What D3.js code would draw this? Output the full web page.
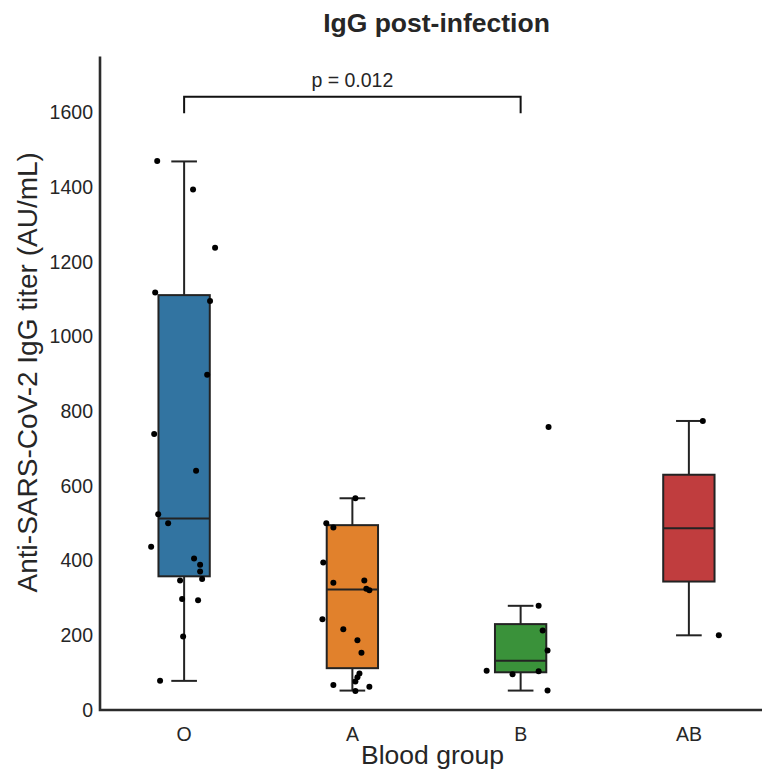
<!DOCTYPE html>
<html>
<head>
<meta charset="utf-8">
<script src="https://cdn.jsdelivr.net/npm/d3@7"></script>
<style>
  body { margin: 0; background: #fff; }
  svg { display: block; }
  text { font-family: "Liberation Sans", Arial, Helvetica, sans-serif; fill: #262626; }
</style>
</head>
<body>
<svg id="chart" width="762" height="770"></svg>
<script>
// ---- data ----
const groups = ["O", "A", "B", "AB"];
const colors = ["#3274A1", "#E1812C", "#3A923A", "#C03D3E"];

// box statistics
const whiskerLow  = [78, 52, 52, 200];
const q1          = [358, 112, 101, 344];
const median      = [513, 323, 132, 487];
const q3          = [1111, 495, 230, 630];
const whiskerHigh = [1469, 567, 279, 774];

// individual points (group index, value, jitter in fraction of band step)
const pointGroup = [
  0,0,0,0,0,0,0,0,0,0,0,0,0,0,0,0,0,0,0,0,
  1,1,1,1,1,1,1,1,1,1,1,1,1,1,1,1,1,1,
  2,2,2,2,2,2,2,2,
  3,3
];
const pointValue = [
  1470, 1394, 1238, 1118, 1095, 898, 739, 641, 524, 500, 437, 406, 389, 371, 351, 347, 297, 294, 197, 78,
  567, 500, 489, 395, 341, 347, 325, 321, 243, 216, 187, 153, 98, 88, 76, 67, 62, 51,
  758, 279, 213, 159, 105, 96, 104, 52,
  774, 200
];
const pointJitter = [
  -0.160, 0.053, 0.184, -0.172, 0.154, 0.137, -0.178, 0.071, -0.154, -0.095, -0.196, 0.059, 0.095, 0.095, 0.107, -0.024, -0.012, 0.083, -0.006, -0.143,
  0.018, -0.155, -0.113, -0.173, -0.113, 0.071, 0.083, 0.101, -0.178, -0.054, 0.030, 0.054, 0.042, 0.030, 0.018, -0.113, 0.101, 0.018,
  0.166, 0.107, 0.131, 0.160, -0.202, -0.048, 0.107, 0.160,
  0.083, 0.178
];

const yTicks = [0, 200, 400, 600, 800, 1000, 1200, 1400, 1600];
const comparison = { from: "O", to: "B", label: "p = 0.012", legLow: 1598, top: 1642 };

// ---- layout ----
const svg = d3.select("#chart");
const mLeft = 100, mRight = 773, mTop = 56.5, mBottom = 710;

const x = d3.scaleBand().domain(groups).range([mLeft, mRight]).padding(0);
const y = d3.scaleLinear().domain([0, 1750]).range([mBottom, mTop]);
const cx = g => x(g) + x.bandwidth() / 2;
const boxW = x.bandwidth() * 0.305;
const capW = boxW * 0.5;
const lineColor = "#232323";
const fontFam = '"Liberation Sans", Arial, sans-serif';

// axes
const yAxis = d3.axisLeft(y).tickValues(yTicks).tickFormat(d3.format("d")).tickSize(0).tickPadding(7);
const gy = svg.append("g").attr("transform", `translate(${mLeft},0)`).call(yAxis);
gy.select(".domain").remove();
gy.selectAll("text").style("font-size", "19.5px").attr("fill", "#262626").style("font-family", fontFam);

const xAxis = d3.axisBottom(x).tickSize(0).tickPadding(17);
const gx = svg.append("g").attr("transform", `translate(0,${mBottom})`).call(xAxis);
gx.select(".domain").remove();
gx.selectAll("text").style("font-size", "19.5px").attr("fill", "#262626").style("font-family", fontFam);

// spines
svg.append("path")
  .attr("d", `M${mLeft},${mTop}V${mBottom}H${mRight}`)
  .attr("fill", "none").attr("stroke", "#2b2b2b").attr("stroke-width", 2.6);

// boxes
const bg = svg.append("g");
groups.forEach((g, i) => {
  const c = cx(g);
  bg.append("line").attr("x1", c).attr("x2", c).attr("y1", y(q3[i])).attr("y2", y(whiskerHigh[i]))
    .attr("stroke", lineColor).attr("stroke-width", 2);
  bg.append("line").attr("x1", c).attr("x2", c).attr("y1", y(q1[i])).attr("y2", y(whiskerLow[i]))
    .attr("stroke", lineColor).attr("stroke-width", 2);
  bg.append("line").attr("x1", c - capW / 2).attr("x2", c + capW / 2).attr("y1", y(whiskerHigh[i])).attr("y2", y(whiskerHigh[i]))
    .attr("stroke", lineColor).attr("stroke-width", 2);
  bg.append("line").attr("x1", c - capW / 2).attr("x2", c + capW / 2).attr("y1", y(whiskerLow[i])).attr("y2", y(whiskerLow[i]))
    .attr("stroke", lineColor).attr("stroke-width", 2);
  bg.append("rect").attr("x", c - boxW / 2).attr("width", boxW)
    .attr("y", y(q3[i])).attr("height", y(q1[i]) - y(q3[i]))
    .attr("fill", colors[i]).attr("stroke", lineColor).attr("stroke-width", 2);
  bg.append("line").attr("x1", c - boxW / 2).attr("x2", c + boxW / 2).attr("y1", y(median[i])).attr("y2", y(median[i]))
    .attr("stroke", lineColor).attr("stroke-width", 2);
});

// points
svg.append("g").selectAll("circle")
  .data(pointValue.map((v, k) => ({ v, g: groups[pointGroup[k]], j: pointJitter[k] })))
  .join("circle")
  .attr("cx", d => cx(d.g) + d.j * x.step())
  .attr("cy", d => y(d.v))
  .attr("r", 3)
  .attr("fill", "#000");

// significance bracket
const bx1 = cx(comparison.from), bx2 = cx(comparison.to);
svg.append("path")
  .attr("d", `M${bx1},${y(comparison.legLow)}V${y(comparison.top)}H${bx2}V${y(comparison.legLow)}`)
  .attr("fill", "none").attr("stroke", "#111").attr("stroke-width", 2);
svg.append("text")
  .attr("x", (bx1 + bx2) / 2).attr("y", y(comparison.top) - 10)
  .attr("text-anchor", "middle").style("font-size", "19.5px")
  .text(comparison.label);

// title & labels
svg.append("text")
  .attr("x", (mLeft + mRight) / 2).attr("y", 32)
  .attr("text-anchor", "middle").style("font-size", "26.5px").style("font-weight", "bold")
  .text("IgG post-infection");

svg.append("text")
  .attr("x", (mLeft + mRight) / 2 - 4).attr("y", 764)
  .attr("text-anchor", "middle").style("font-size", "26.5px")
  .text("Blood group");

svg.append("text")
  .attr("transform", `translate(37,${(mTop + mBottom) / 2 - 11}) rotate(-90)`)
  .attr("text-anchor", "middle").style("font-size", "28px")
  .text("Anti-SARS-CoV-2 IgG titer (AU/mL)");
</script>
</body>
</html>
